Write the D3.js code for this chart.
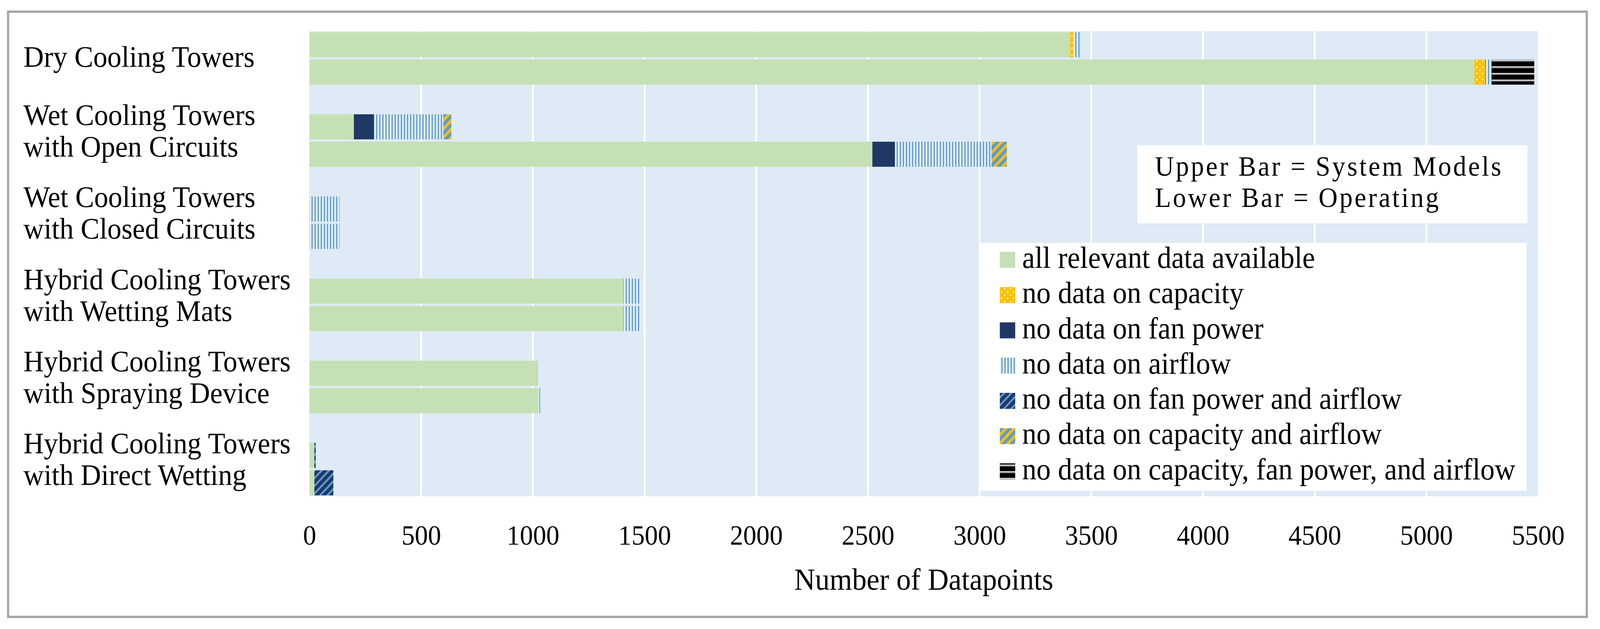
<!DOCTYPE html>
<html>
<head>
<meta charset="utf-8">
<script src="https://cdn.jsdelivr.net/npm/d3@7/dist/d3.min.js"></script>
<style>
  html, body { margin: 0; padding: 0; background: #ffffff; width: 100%; height: 100%; overflow: hidden; }
  svg { display: block; width: 100vw; height: 100vh; }
  text { font-family: "Liberation Serif", "Times New Roman", serif; fill: #000; }
</style>
</head>
<body>
<svg id="chart" viewBox="0 0 4364 1611" preserveAspectRatio="none"></svg>
<script>
// ---------------- DATA ----------------
const categories = [
  "Dry Cooling Towers",
  "Wet Cooling Towers with Open Circuits",
  "Wet Cooling Towers with Closed Circuits",
  "Hybrid Cooling Towers with Wetting Mats",
  "Hybrid Cooling Towers with Spraying Device",
  "Hybrid Cooling Towers with Direct Wetting"
];
const categoryLines = [
  ["Dry Cooling Towers"],
  ["Wet Cooling Towers", "with Open Circuits"],
  ["Wet Cooling Towers", "with Closed Circuits"],
  ["Hybrid Cooling Towers", "with Wetting Mats"],
  ["Hybrid Cooling Towers", "with Spraying Device"],
  ["Hybrid Cooling Towers", "with Direct Wetting"]
];
const barKinds = ["System Models", "Operating"];   // upper bar, lower bar

const seriesKeys = ["all", "noCap", "noFan", "noAir", "noFanAir", "noCapAir", "noAll"];
const seriesNames = [
  "all relevant data available",
  "no data on capacity",
  "no data on fan power",
  "no data on airflow",
  "no data on fan power and airflow",
  "no data on capacity and airflow",
  "no data on capacity, fan power, and airflow"
];

// Upper bars = System Models
const sysAll      = [3405, 199,   0, 1405, 1020, 22];
const sysNoCap    = [  15,   0,   0,    0,    0,  0];
const sysNoFan    = [   0,  90,   0,    0,    0,  0];
const sysNoAir    = [  30, 310, 135,   75,    4,  0];
const sysNoFanAir = [   0,   0,   0,    0,    0,  6];
const sysNoCapAir = [   0,  36,   0,    0,    0,  0];
const sysNoAll    = [   0,   0,   0,    0,    0,  0];

// Lower bars = Operating
const opAll      = [5215, 2520,   0, 1405, 1025, 22];
const opNoCap    = [  48,    0,   0,    0,    0,  0];
const opNoFan    = [   0,  101,   0,    0,    0,  0];
const opNoAir    = [  30,  432, 135,   75,    8,  0];
const opNoFanAir = [   0,    0,   0,    0,    0, 85];
const opNoCapAir = [   0,   69,   0,    0,    0,  0];
const opNoAll    = [ 190,    0,   0,    0,    0,  0];

const xTicks = [0, 500, 1000, 1500, 2000, 2500, 3000, 3500, 4000, 4500, 5000, 5500];
const xTitle = "Number of Datapoints";
const noteLines = ["Upper Bar = System Models", "Lower Bar = Operating"];

// ---------------- BUILD ROWS ----------------
const sysSeries = [sysAll, sysNoCap, sysNoFan, sysNoAir, sysNoFanAir, sysNoCapAir, sysNoAll];
const opSeries  = [opAll, opNoCap, opNoFan, opNoAir, opNoFanAir, opNoCapAir, opNoAll];

const rows = [];
categories.forEach((c, i) => {
  [sysSeries, opSeries].forEach((ser, k) => {
    const r = { cat: c, kind: barKinds[k] };
    seriesKeys.forEach((key, j) => r[key] = ser[j][i]);
    rows.push(r);
  });
});
const stacked = d3.stack().keys(seriesKeys)(rows);

// ---------------- LAYOUT ----------------
const svg = d3.select("#chart");
const W = 4364, H = 1611;
const plot = { left: 844, right: 4195, top: 80, bottom: 1271 };

const x = d3.scaleLinear().domain([0, 5500]).range([plot.left, plot.right]);
const y = d3.scaleBand().domain(categories).range([plot.top, plot.bottom])
  .paddingInner(0.361).paddingOuter(0.011);
const ySub = d3.scaleBand().domain(barKinds).range([0, y.bandwidth()]).paddingInner(0.0857);

// ---------------- PATTERNS ----------------
const defs = svg.append("defs");
const cYellow = "#FFC000", cBlue = "#5B9BD5", cNavy = "#203864", cGreen = "#C5E0B4";

// capacity: yellow with small white dots
let p = defs.append("pattern").attr("id", "p-noCap").attr("patternUnits", "userSpaceOnUse")
  .attr("width", 16).attr("height", 16);
p.append("rect").attr("width", 16).attr("height", 16).attr("fill", cYellow);
p.append("rect").attr("x", 2).attr("y", 2).attr("width", 4).attr("height", 4).attr("fill", "#fff3c4");
p.append("rect").attr("x", 10).attr("y", 10).attr("width", 4).attr("height", 4).attr("fill", "#fff3c4");

// airflow: narrow vertical blue lines on white
p = defs.append("pattern").attr("id", "p-noAir").attr("patternUnits", "userSpaceOnUse")
  .attr("width", 8.4).attr("height", 10);
p.append("rect").attr("width", 8.4).attr("height", 10).attr("fill", "#ffffff");
p.append("rect").attr("x", 0).attr("width", 5.6).attr("height", 10).attr("fill", "#a9cbea");
p.append("rect").attr("x", 1.6).attr("width", 2.6).attr("height", 10).attr("fill", cBlue);

// fan power & airflow: navy with blue upward diagonal
p = defs.append("pattern").attr("id", "p-noFanAir").attr("patternUnits", "userSpaceOnUse")
  .attr("width", 14).attr("height", 14).attr("patternTransform", "rotate(45)");
p.append("rect").attr("width", 14).attr("height", 14).attr("fill", cNavy);
p.append("rect").attr("x", 0).attr("width", 5).attr("height", 14).attr("fill", cBlue);

// capacity & airflow: yellow/blue upward diagonal
p = defs.append("pattern").attr("id", "p-noCapAir").attr("patternUnits", "userSpaceOnUse")
  .attr("width", 15.5).attr("height", 15.5).attr("patternTransform", "rotate(45)");
p.append("rect").attr("width", 15.5).attr("height", 15.5).attr("fill", cBlue);
p.append("rect").attr("x", 0).attr("width", 7).attr("height", 15.5).attr("fill", cYellow);

// all three: black with thin white/grey horizontal lines
p = defs.append("pattern").attr("id", "p-noAll").attr("patternUnits", "userSpaceOnUse")
  .attr("width", 10).attr("height", 17);
p.append("rect").attr("width", 10).attr("height", 17).attr("fill", "#000000");
p.append("rect").attr("y", 0).attr("width", 10).attr("height", 2.5).attr("fill", "#ffffff");
p.append("rect").attr("y", 2.5).attr("width", 10).attr("height", 2.5).attr("fill", "#808080");

const fills = {
  all: cGreen,
  noCap: "url(#p-noCap)",
  noFan: cNavy,
  noAir: "url(#p-noAir)",
  noFanAir: "url(#p-noFanAir)",
  noCapAir: "url(#p-noCapAir)",
  noAll: "url(#p-noAll)"
};

// ---------------- FRAME ----------------
svg.append("rect").attr("x", 0).attr("y", 0).attr("width", W).attr("height", H).attr("fill", "#fff");
svg.append("rect").attr("x", 22).attr("y", 30).attr("width", 4306).attr("height", 1550)
  .attr("fill", "none").attr("stroke", "#a6a6a6").attr("stroke-width", 6);

// plot background
svg.append("rect").attr("x", plot.left).attr("y", plot.top)
  .attr("width", plot.right - plot.left).attr("height", plot.bottom - plot.top)
  .attr("fill", "#DEEAF6");

// gridlines
svg.append("g").selectAll("line").data(xTicks.filter(t => t > 0 && t < 5500)).join("line")
  .attr("x1", d => x(d)).attr("x2", d => x(d))
  .attr("y1", plot.top).attr("y2", plot.bottom)
  .attr("stroke", "#ffffff").attr("stroke-width", 5);

// ---------------- BARS ----------------
const gBars = svg.append("g");
stacked.forEach(layer => {
  gBars.append("g").attr("fill", fills[layer.key])
    .selectAll("rect").data(layer.filter(d => d[1] - d[0] > 0)).join("rect")
      .attr("x", d => x(d[0]))
      .attr("width", d => x(d[1]) - x(d[0]))
      .attr("y", d => y(d.data.cat) + ySub(d.data.kind))
      .attr("height", ySub.bandwidth());
});

// ---------------- AXIS ----------------
const axis = d3.axisBottom(x).tickValues(xTicks).tickSize(0).tickPadding(0).tickFormat(d3.format("d"));
const gAxis = svg.append("g").attr("transform", `translate(0,${plot.bottom})`).call(axis);
gAxis.select(".domain").remove();
gAxis.selectAll("text")
  .attr("y", 124).attr("dy", 0)
  .style("font-family", '"Liberation Serif", serif')
  .style("font-size", "72px").attr("fill", "#000");

svg.append("text").attr("x", (plot.left + plot.right) / 2).attr("y", 1510)
  .attr("text-anchor", "middle").style("font-size", "79px").text(xTitle);

// ---------------- CATEGORY LABELS ----------------
const gLab = svg.append("g");
categoryLines.forEach((lines, i) => {
  const cy = y(categories[i]) + y.bandwidth() / 2;
  const t = gLab.append("text").attr("x", 64).style("font-size", "77px");
  if (lines.length === 1) {
    t.attr("y", cy + 21).text(lines[0]);
  } else {
    t.append("tspan").attr("x", 64).attr("y", cy - 40).text(lines[0]);
    t.append("tspan").attr("x", 64).attr("y", cy + 41).text(lines[1]);
  }
});

// ---------------- NOTE BOX ----------------
svg.append("rect").attr("x", 3102).attr("y", 372).attr("width", 1064).attr("height", 200).attr("fill", "#fff");
const note = svg.append("text").style("font-size", "72px").style("letter-spacing", "5px");
noteLines.forEach((s, i) => {
  note.append("tspan").attr("x", 3150).attr("y", 450 + i * 80).text(s);
});

// ---------------- LEGEND ----------------
const lg = svg.append("g");
lg.append("rect").attr("x", 2672).attr("y", 622).attr("width", 1492).attr("height", 635).attr("fill", "#fff");
seriesKeys.forEach((key, i) => {
  const yy = 645 + i * 90.3;
  lg.append("rect").attr("x", 2727).attr("y", yy).attr("width", 42).attr("height", 41).attr("fill", fills[key]);
  lg.append("text").attr("x", 2788).attr("y", yy + 41).style("font-size", "78px").text(seriesNames[i]);
});
</script>
</body>
</html>
